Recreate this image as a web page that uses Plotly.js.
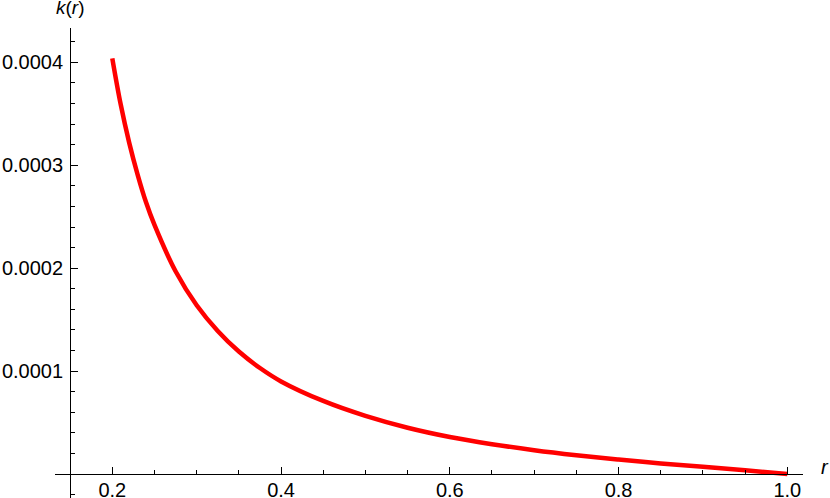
<!DOCTYPE html>
<html>
<head>
<meta charset="utf-8">
<script src="https://cdn.plot.ly/plotly-3.0.1.min.js"></script>
<style>html,body{margin:0;padding:0;background:#fff;}#chart{width:830px;height:498px;}</style>
</head>
<body>
<div id="chart"></div>
<script>
// values
const rValues = [0.2, 0.21, 0.22, 0.23, 0.24, 0.25, 0.275, 0.3, 0.325, 0.35, 0.375, 0.4, 0.45, 0.5, 0.55, 0.6, 0.65, 0.7, 0.75, 0.8, 0.85, 0.9, 0.95, 1.0];
const kValues = [4.04e-4, 3.59e-4, 3.22e-4, 2.91e-4, 2.64e-4, 2.42e-4, 1.97e-4, 1.64e-4, 1.39e-4, 1.19e-4, 1.03e-4, 0.90e-4, 0.71e-4, 0.565e-4, 0.45e-4, 0.36e-4, 0.29e-4, 0.232e-4, 0.183e-4, 0.14e-4, 0.103e-4, 0.07e-4, 0.037e-4, 0.0];
const xTickVals = [0.2, 0.4, 0.6, 0.8, 1.0];
const xTickText = ['0.2', '0.4', '0.6', '0.8', '1.0'];
const yTickVals = [0.0001, 0.0002, 0.0003, 0.0004];
const yTickText = ['0.0001', '0.0002', '0.0003', '0.0004'];

const xRange = [0.1321, 1.0186];
const yRange = [-2.33e-5, 4.334e-4];
const yAxisAtX = 0.15;

const fontFam = 'Liberation Sans, Arial, sans-serif';
const tickFont = {family: fontFam, size: 20, color: '#000'};

const trace = {
  x: rValues, y: kValues, type: 'scatter', mode: 'lines',
  line: {color: '#ff0000', width: 4.5, shape: 'spline', smoothing: 1},
  hoverinfo: 'skip'
};

const layout = {
  width: 830, height: 498,
  margin: {l: 55, r: 27, t: 28, b: 0},
  paper_bgcolor: '#fff', plot_bgcolor: '#fff',
  showlegend: false,
  xaxis: {
    range: xRange, anchor: 'free',
    position: (0 - yRange[0]) / (yRange[1] - yRange[0]),
    showgrid: false, zeroline: false, showline: true, linecolor: '#000', linewidth: 1,
    tickmode: 'array', tickvals: xTickVals, ticktext: xTickText,
    ticks: 'inside', ticklen: 7, tickcolor: '#000', tickwidth: 1,
    tickfont: tickFont, ticklabelstandoff: -2,
    minor: {tickmode: 'linear', tick0: 0, dtick: 0.05, ticks: 'inside', ticklen: 4, tickcolor: '#000', tickwidth: 1, showgrid: false}
  },
  yaxis: {
    range: yRange, anchor: 'free',
    position: (yAxisAtX - xRange[0]) / (xRange[1] - xRange[0]),
    showgrid: false, zeroline: false, showline: true, linecolor: '#000', linewidth: 1,
    tickmode: 'array', tickvals: yTickVals, ticktext: yTickText,
    ticks: 'inside', ticklen: 7, tickcolor: '#000', tickwidth: 1,
    tickfont: tickFont, ticklabelstandoff: 3,
    minor: {tickmode: 'linear', tick0: 0, dtick: 0.00002, ticks: 'inside', ticklen: 4, tickcolor: '#000', tickwidth: 1, showgrid: false}
  },
  annotations: [
    {text: '<i>k</i>(<i>r</i>)', xref: 'x', yref: 'paper', x: yAxisAtX, y: 1, yanchor: 'bottom', xanchor: 'center', yshift: 8, showarrow: false,
     font: {family: fontFam, size: 19, color: '#000'}},
    {text: '<i>r</i>', xref: 'paper', yref: 'y', x: 1, y: 0, xanchor: 'left', yanchor: 'middle', xshift: 16, yshift: 7, showarrow: false,
     font: {family: fontFam, size: 20, color: '#000'}}
  ]
};

Plotly.newPlot('chart', [trace], layout, {staticPlot: true, displayModeBar: false});
</script>
</body>
</html>
